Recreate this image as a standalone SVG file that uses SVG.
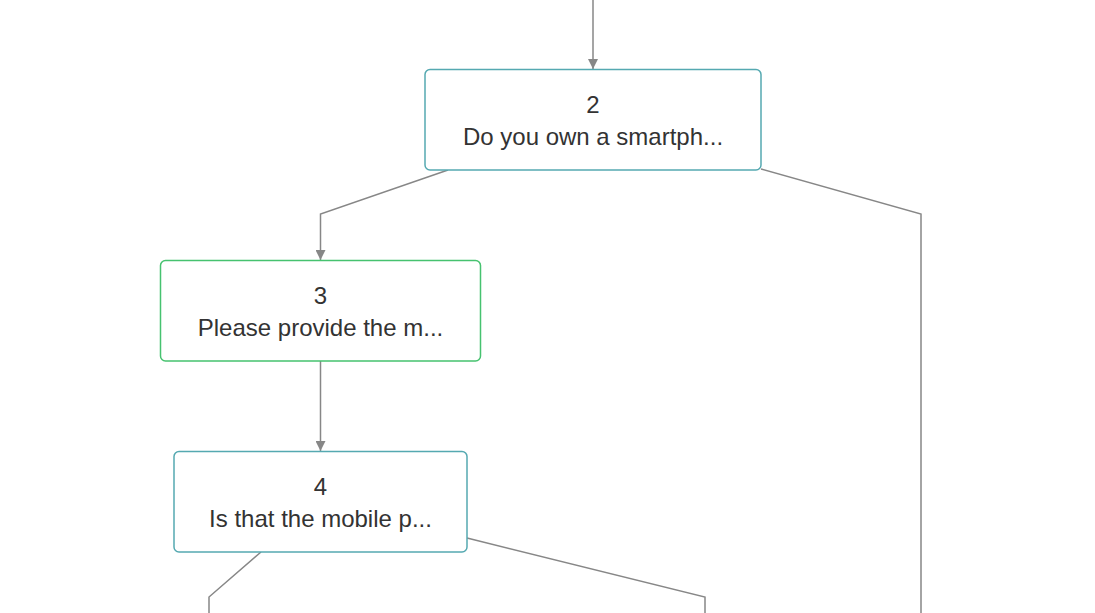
<svg xmlns="http://www.w3.org/2000/svg" width="1095" height="613" viewBox="0 0 1095 613">
<style>
.node rect{fill:#fff;stroke-width:1.5}
.q rect{stroke:#55a9b1}
.t rect{stroke:#46c26f}
.node text{font-family:"Liberation Sans",Arial,sans-serif;font-size:24px;fill:#333;text-anchor:middle}
.conn path{fill:none;stroke:#878787;stroke-width:1.5}
</style>
<defs>
<marker id="arr" viewBox="0 0 10 10" refX="10" refY="5" markerWidth="10" markerHeight="10" markerUnits="userSpaceOnUse" orient="auto">
<path d="M0,0 L10,5 L0,10 z" fill="#878787"/>
</marker>
</defs>
<rect width="1095" height="613" fill="#fff"/>
<g id="connectors" class="conn">
<path d="M593,0 L593,69" marker-end="url(#arr)"/>
<path d="M448,170 L320.5,214 L320.5,260" marker-end="url(#arr)"/>
<path d="M761,169 L921,214 L921,613"/>
<path d="M320.5,361 L320.5,451" marker-end="url(#arr)"/>
<path d="M261,552 L209,597 L209,613"/>
<path d="M467,538 L705,597 L705,613"/>
</g>
<g id="node2" class="node q">
<rect x="425" y="69.5" width="336" height="100.5" rx="5"/>
<text x="593" y="113">2</text>
<text x="593" y="145">Do you own a smartph...</text>
</g>
<g id="node3" class="node t">
<rect x="160.5" y="260.5" width="320" height="100.5" rx="5"/>
<text x="320.5" y="304">3</text>
<text x="320.5" y="336">Please provide the m...</text>
</g>
<g id="node4" class="node q">
<rect x="174" y="451.5" width="293" height="100.5" rx="5"/>
<text x="320.5" y="495">4</text>
<text x="320.5" y="527">Is that the mobile p...</text>
</g>
</svg>
